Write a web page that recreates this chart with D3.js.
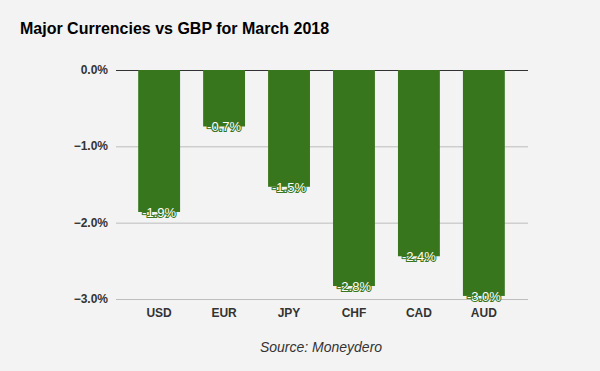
<!DOCTYPE html>
<html>
<head>
<meta charset="utf-8">
<script src="https://cdn.jsdelivr.net/npm/d3@7"></script>
<style>
  body { margin: 0; background: #f3f3f3; }
  svg { display: block; font-family: "Liberation Sans", Arial, sans-serif; }
</style>
</head>
<body>
<svg id="chart" width="600" height="371"></svg>
<script>
// Data
var currencies = ["USD", "EUR", "JPY", "CHF", "CAD", "AUD"];
var changes = [-1.86, -0.74, -1.53, -2.83, -2.44, -2.96];
var changeLabels = ["-1.9%", "-0.7%", "-1.5%", "-2.8%", "-2.4%", "-3.0%"];
var yTicks = [0, -1, -2, -3];

var svg = d3.select("#chart");
svg.append("rect").attr("width", 600).attr("height", 371).attr("fill", "#f3f3f3");

// Title
svg.append("text")
  .attr("x", 20).attr("y", 34)
  .style("font-size", "16px").style("font-weight", "bold").attr("fill", "#000")
  .text("Major Currencies vs GBP for March 2018");

// Scales
var x = d3.scaleBand().domain(currencies).range([126.5, 516.5]).paddingInner(0.355).paddingOuter(0.18);
var y = d3.scaleLinear().domain([-3, 0]).range([299, 70]);

// Gridlines
svg.append("g").selectAll("line")
  .data(yTicks)
  .enter().append("line")
  .attr("x1", 116).attr("x2", 528)
  .attr("y1", d => y(d) + 0.5).attr("y2", d => y(d) + 0.5)
  .attr("stroke", d => d == 0 ? "#333" : "#bdbdbd")
  .attr("stroke-width", 1);

// Y labels
svg.append("g").selectAll("text")
  .data(yTicks)
  .enter().append("text")
  .attr("x", 108).attr("y", d => y(d) + 4)
  .attr("text-anchor", "end")
  .style("font-size", "12px").style("font-weight", "bold").attr("fill", "#333")
  .text(d => d3.format(".1f")(d) + "%");

// Bars
var data = currencies.map((c, i) => ({cur: c, val: changes[i], lab: changeLabels[i]}));
svg.append("g").selectAll("rect")
  .data(data)
  .enter().append("rect")
  .attr("x", d => x(d.cur))
  .attr("y", y(0))
  .attr("width", x.bandwidth())
  .attr("height", d => y(d.val) - y(0))
  .attr("fill", "#38761d");

// Value labels
svg.append("g").selectAll("text")
  .data(data)
  .enter().append("text")
  .attr("x", d => x(d.cur) + x.bandwidth() / 2)
  .attr("y", d => y(d.val) + 5)
  .attr("text-anchor", "middle")
  .style("font-size", "13px")
  .attr("fill", "#fff")
  .attr("stroke", "#38761d").attr("stroke-width", 2)
  .attr("paint-order", "stroke")
  .text(d => d.lab);

// X labels
svg.append("g").selectAll("text")
  .data(currencies)
  .enter().append("text")
  .attr("x", d => x(d) + x.bandwidth() / 2)
  .attr("y", 317)
  .attr("text-anchor", "middle")
  .style("font-size", "12px").style("font-weight", "bold").attr("fill", "#333")
  .text(d => d);

// Source
svg.append("text")
  .attr("x", 321).attr("y", 352)
  .attr("text-anchor", "middle")
  .style("font-size", "14px").style("font-style", "italic").attr("fill", "#333")
  .text("Source: Moneydero");
</script>
</body>
</html>
